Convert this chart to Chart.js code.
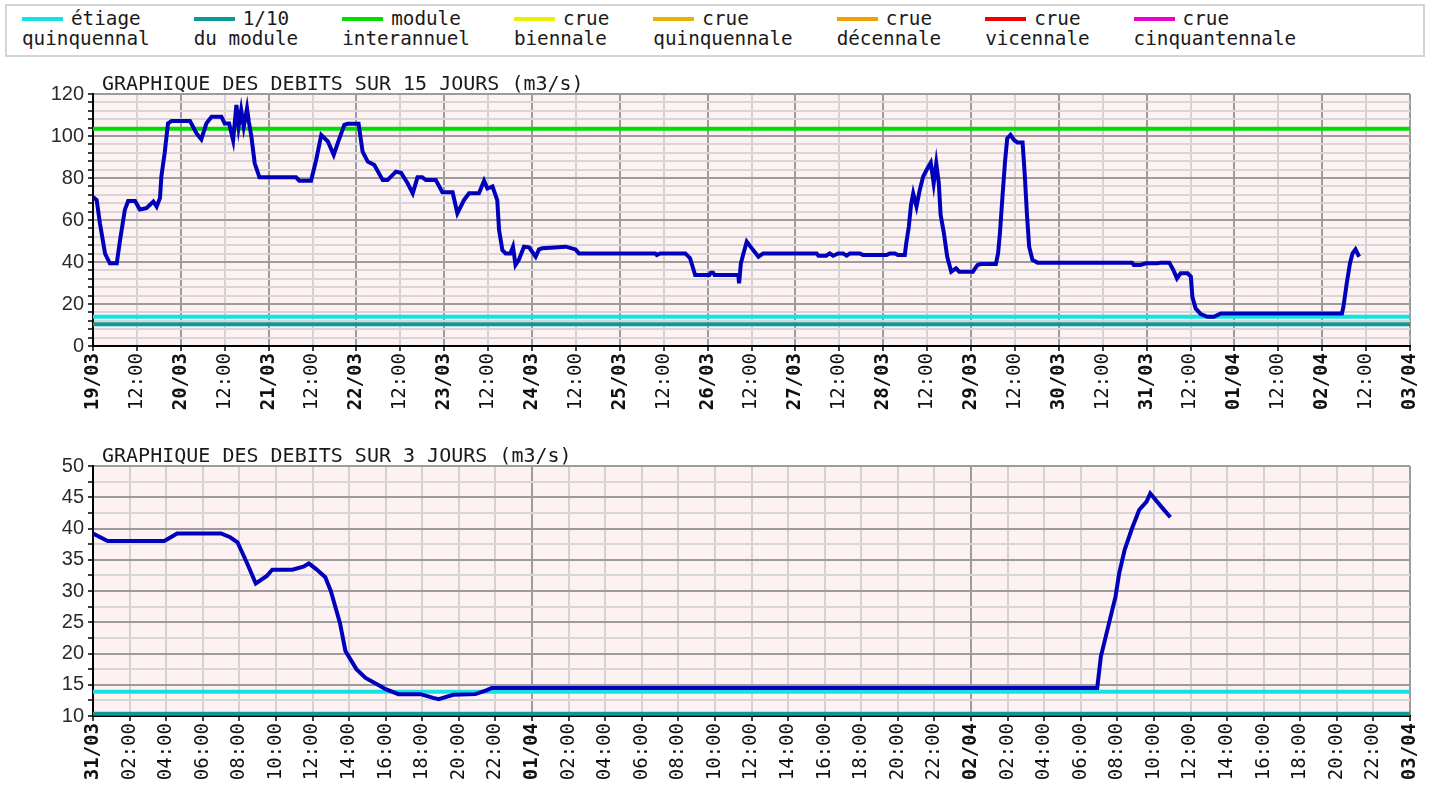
<!DOCTYPE html>
<html>

<head>
  <title>Debits</title>
  <script src="https://cdn.jsdelivr.net/npm/chart.js"></script>
  <style>
    body {
      margin: 0;
      background: #fff;
      width: 1430px;
      height: 798px;
      position: relative;
      overflow: hidden;
    }

    #legend {
      position: absolute;
      left: 5px;
      top: 4px;
      width: 1401px;
      height: 46px;
      border: 2px solid #d4d4d4;
      padding: 3px 0 0 15px;
      font: 19.3px "DejaVu Sans Mono", monospace;
      line-height: 20px;
      color: #1a1a1a;
      display: flex;
      gap: 44px;
      white-space: nowrap;
    }

    .swatch {
      display: inline-block;
      width: 41px;
      height: 4px;
      margin-right: 8px;
      vertical-align: middle;
      position: relative;
      top: -1px;
    }

    .box {
      position: absolute;
      left: 0;
      width: 1430px;
    }
  </style>
</head>

<body>
  <div id="legend"></div>
  <div class="box" style="top:60px;height:360px"><canvas id="chart15"></canvas></div>
  <div class="box" style="top:425px;height:373px"><canvas id="chart3"></canvas></div>
  <script>
    // legend
    const legendNames = [
      ['étiage', 'quinquennal'], ['1/10', 'du module'], ['module', 'interannuel'],
      ['crue', 'biennale'], ['crue', 'quinquennale'], ['crue', 'décennale'],
      ['crue', 'vicennale'], ['crue', 'cinquantennale']
    ];
    const legendColors = ['#14e2e2', '#0a9a9a', '#00dd00', '#eeee00', '#e6b400', '#f0a000', '#ee0000', '#ee00cc'];

    // reference levels (m3/s)
    const ETIAGE = 13.9;
    const MODULE = 103.5;
    const DIXIEME = 10.35;

    // 15 days, hours since 19/03 00:00
    const days15 = ['19/03', '20/03', '21/03', '22/03', '23/03', '24/03', '25/03', '26/03',
      '27/03', '28/03', '29/03', '30/03', '31/03', '01/04', '02/04', '03/04'];
    const flow15Hours = [0, 1, 1.9, 3.3, 4.6, 6.5, 7.4, 8.7, 9.6, 11.5, 12.8, 14.6, 16.5, 17.4, 18.3, 18.7, 19.6,
      20.5, 21.5, 26.5, 28.3, 29.6, 31, 32.4, 35.1, 36, 37.2, 38.3, 39.2, 39.8, 40.5, 41.2, 42.1, 42.6, 43.3,
      44.2, 45.5, 55.5, 56.4, 59.6, 61, 62.4, 64.2, 65.8, 66.9, 68.7, 69.6, 72.6, 73.7, 75.1, 76.9, 79.2, 80.5,
      82.8, 84.2, 86, 87.4, 88.7, 90, 91, 93.7, 95.5, 98.3, 99.6, 101.4, 102.8, 105.5, 106.9, 107.8, 109.2,
      110.5, 111, 111.9, 112.8, 114.1, 114.8, 115.5, 116.4, 117.8, 119.2, 121, 121.9, 122.8, 129.2, 131.9,
      132.8, 153.7, 154.1, 155, 161.9, 163.2, 164.6, 168.5, 168.9, 169.5, 169.9, 176.4, 176.6, 177.1, 177.8,
      178.7, 180.1, 181.9, 183.2, 197.8, 198.3, 200.4, 201.4, 202.3, 203.7, 205, 206, 206.9, 209.6, 210.5,
      216.9, 217.8, 219.2, 220, 221.9, 222.3, 223, 223.6, 224.2, 225.1, 226, 226.9, 228.1, 229, 229.8, 230.5,
      231.2, 231.7, 232.6, 233.5, 234.6, 235.9, 236.8, 240.5, 241.8, 242.7, 246.8, 247.4, 247.9, 248.6, 249.3,
      249.9, 250.8, 251.8, 252.7, 254.1, 254.7, 255.3, 255.9, 256.8, 258.2, 284, 284.5, 286.3, 287.8, 291,
      291.9, 294.2, 295.3, 296.3, 297.3, 299.2, 300.1, 300.5, 301.4, 302.8, 304.6, 306.4, 308.3, 341.4, 341.8,
      342.7, 343.6, 344.3, 345.1, 346.1];
    const flow15Values = [71, 69.5, 58.4, 44, 39.4, 39.4, 50.5, 64.8, 69, 69, 65, 65.6, 68.8, 66.4, 70.4, 80.8, 92,
      106, 107.2, 107.2, 101.2, 98.4, 106, 109.2, 109.2, 106, 106, 98, 114.8, 104.4, 112.4, 104.4, 113.2, 106.8, 99.7,
      87, 80.3, 80.3, 78.7, 78.7, 88.6, 100.5, 97.4, 91, 96.6, 105.3, 105.8, 105.8, 92.5, 87.8, 86.2, 79, 79,
      83, 82.5, 77.5, 72.7, 80.3, 80.3, 79, 79, 73.2, 73.2, 63.2, 69.5, 72.7, 72.7, 78.7, 75, 76,
      69.5, 55.2, 45.7, 44.1, 44.1, 47.3, 38.6, 41, 47.3, 47, 42.5, 46, 46.5, 47.3, 46,
      44.1, 44.1, 43.3, 44.1, 44.1, 41.8, 33.8, 33.8, 34.9, 34.9, 33.8, 33.8, 29.8, 39.4, 44.1,
      49.7, 46.5, 42.5, 44.1, 44.1, 43, 43, 44.1, 43, 44.1, 44.1, 43, 44.1, 44.1, 43.3,
      43.3, 44.1, 44.1, 43.3, 43.3, 48.9, 56.8, 67.1, 72.7, 66.4, 74.3, 80.6, 84.6, 87.3, 77.5, 87,
      77.5, 62.4, 53.6, 42.5, 35.4, 37, 35.4, 35.4, 38.6, 39, 39, 44.1, 53.6, 71.1, 87.8,
      98.9, 100.5, 98, 96.9, 96.9, 81.4, 62.4, 47.3, 41, 39.7, 39.7, 38.6, 38.6, 39.4, 39.4,
      39.7, 39.7, 36.2, 32.2, 34.6, 34.6, 33, 23.5, 17.9, 15.2, 13.9, 13.9, 15.5, 15.5, 18.7,
      29.8, 39.4, 44.1, 46, 42.5];

    // 3 days, hours since 31/03 00:00
    const days3 = ['31/03', '01/04', '02/04', '03/04'];
    const hours3 = ['02:00', '04:00', '06:00', '08:00', '10:00', '12:00', '14:00', '16:00', '18:00', '20:00', '22:00'];
    const flow3Hours = [0, 0.8, 3.9, 4.6, 7.0, 7.5, 7.9, 8.4, 8.9, 9.5, 9.8, 10.9, 11.5, 11.8, 12.2, 12.7, 13.0,
      13.5, 13.8, 14.4, 14.9, 15.7, 16.0, 16.7, 17.9, 18.6, 18.9, 19.7, 20.9, 21.5, 21.8, 54.9, 55.1, 55.5,
      55.9, 56.1, 56.4, 56.8, 57.2, 57.6, 57.8, 58.4, 58.9];
    const flow3Values = [39.2, 38, 38, 39.2, 39.2, 38.6, 37.8, 34.6, 31.2, 32.4, 33.4, 33.4, 33.9, 34.4, 33.5, 32.2, 30,
      24.9, 20.4, 17.5, 16.1, 14.8, 14.3, 13.5, 13.5, 12.9, 12.7, 13.4, 13.5, 14.1, 14.5, 14.5, 19.5, 24.3,
      29.1, 32.8, 36.6, 40, 43, 44.3, 45.6, 43.5, 41.8];

    const legend = document.getElementById('legend');
    legendNames.forEach((n, i) => {
      const item = document.createElement('div');
      item.innerHTML = `<div><span class="swatch" style="background:${legendColors[i]}"></span>${n[0]}</div><div>${n[1]}</div>`;
      legend.appendChild(item);
    });

    const plotDecor = {
      id: 'plotDecor',
      beforeDraw(chart, args, opts) {
        const { ctx, chartArea: a } = chart;
        ctx.save();
        ctx.fillStyle = '#fdf1f1';
        ctx.fillRect(a.left, a.top, a.right - a.left, a.bottom - a.top);
        ctx.font = '20px "DejaVu Sans Mono"';
        ctx.fillStyle = '#1a1a1a';
        ctx.textBaseline = 'alphabetic';
        ctx.fillText(opts.title, a.left + 9, a.top - 4);
        ctx.restore();
      }
    };

    function pts(xs, ys) {
      return xs.map((x, i) => ({ x: x, y: ys[i] }));
    }

    function level(y, xMax, color) {
      return {
        data: [{ x: 0, y: y }, { x: xMax, y: y }],
        borderColor: color,
        borderWidth: 4,
        pointRadius: 0
      };
    }

    function makeChart(id, cfg) {
      const tickFont = (c) => ({
        family: 'DejaVu Sans Mono',
        size: 19,
        weight: c.tick && cfg.isDay(c.tick.value) ? 'bold' : 'normal'
      });
      return new Chart(document.getElementById(id), {
        type: 'line',
        data: { datasets: cfg.datasets },
        options: {
          responsive: true,
          maintainAspectRatio: false,
          animation: false,
          events: [],
          layout: { padding: { top: cfg.padTop, right: 20, left: 0, bottom: 0 } },
          plugins: {
            legend: { display: false },
            tooltip: { enabled: false },
            plotDecor: { title: cfg.title }
          },
          scales: {
            x: {
              type: 'linear',
              min: 0,
              max: cfg.xMax,
              afterFit: (s) => {
                s.height = cfg.xHeight;
                s.paddingLeft = 0;
                s.paddingRight = 0;
              },
              border: { color: '#000', width: 2 },
              grid: {
                color: (c) => cfg.isDay(c.tick.value) ? '#9c9c9c' : '#d2d2d2',
                lineWidth: 2,
                tickColor: '#000',
                tickLength: 5,
                tickWidth: 1.5
              },
              ticks: {
                stepSize: cfg.xStep,
                autoSkip: false,
                minRotation: 90,
                maxRotation: 90,
                padding: 2,
                color: '#111',
                font: tickFont,
                callback: cfg.xLabel
              }
            },
            y: {
              min: cfg.yMin,
              max: cfg.yMax,
              afterFit: (s) => { s.width = 93; },
              border: { color: '#000', width: 2 },
              grid: {
                color: (c) => c.tick.value % cfg.yMajor === 0 ? '#9c9c9c' : '#d6d6d6',
                lineWidth: 2,
                tickColor: '#000',
                tickLength: 5,
                tickWidth: 1.5
              },
              ticks: {
                stepSize: cfg.yStep,
                autoSkip: false,
                padding: 4,
                color: '#2a2a2a',
                font: { family: 'Liberation Sans', size: 20 },
                callback: (v) => v % cfg.yMajor === 0 ? String(v) : ''
              }
            }
          }
        },
        plugins: [plotDecor]
      });
    }

    const flowStyle = { borderColor: '#0000bb', borderWidth: 4, pointRadius: 0, tension: 0 };

    makeChart('chart15', {
      title: 'GRAPHIQUE DES DEBITS SUR 15 JOURS (m3/s)',
      padTop: 34,
      xHeight: 74,
      xMax: 360,
      xStep: 12,
      yMin: 0,
      yMax: 120,
      yStep: 4,
      yMajor: 20,
      isDay: (v) => v % 24 === 0,
      xLabel: (v) => v % 24 === 0 ? days15[v / 24] : '12:00',
      datasets: [
        Object.assign({ data: pts(flow15Hours, flow15Values) }, flowStyle),
        level(MODULE, 360, legendColors[2]),
        level(ETIAGE, 360, legendColors[0]),
        level(DIXIEME, 360, legendColors[1])
      ]
    });

    makeChart('chart3', {
      title: 'GRAPHIQUE DES DEBITS SUR 3 JOURS (m3/s)',
      padTop: 41,
      xHeight: 82,
      xMax: 72,
      xStep: 2,
      yMin: 10,
      yMax: 50,
      yStep: 2.5,
      yMajor: 5,
      isDay: (v) => v % 24 === 0,
      xLabel: (v) => v % 24 === 0 ? days3[v / 24] : hours3[(v % 24) / 2 - 1],
      datasets: [
        Object.assign({ data: pts(flow3Hours, flow3Values) }, flowStyle),
        level(ETIAGE, 72, legendColors[0]),
        level(DIXIEME, 72, legendColors[1])
      ]
    });
  </script>
</body>

</html>
